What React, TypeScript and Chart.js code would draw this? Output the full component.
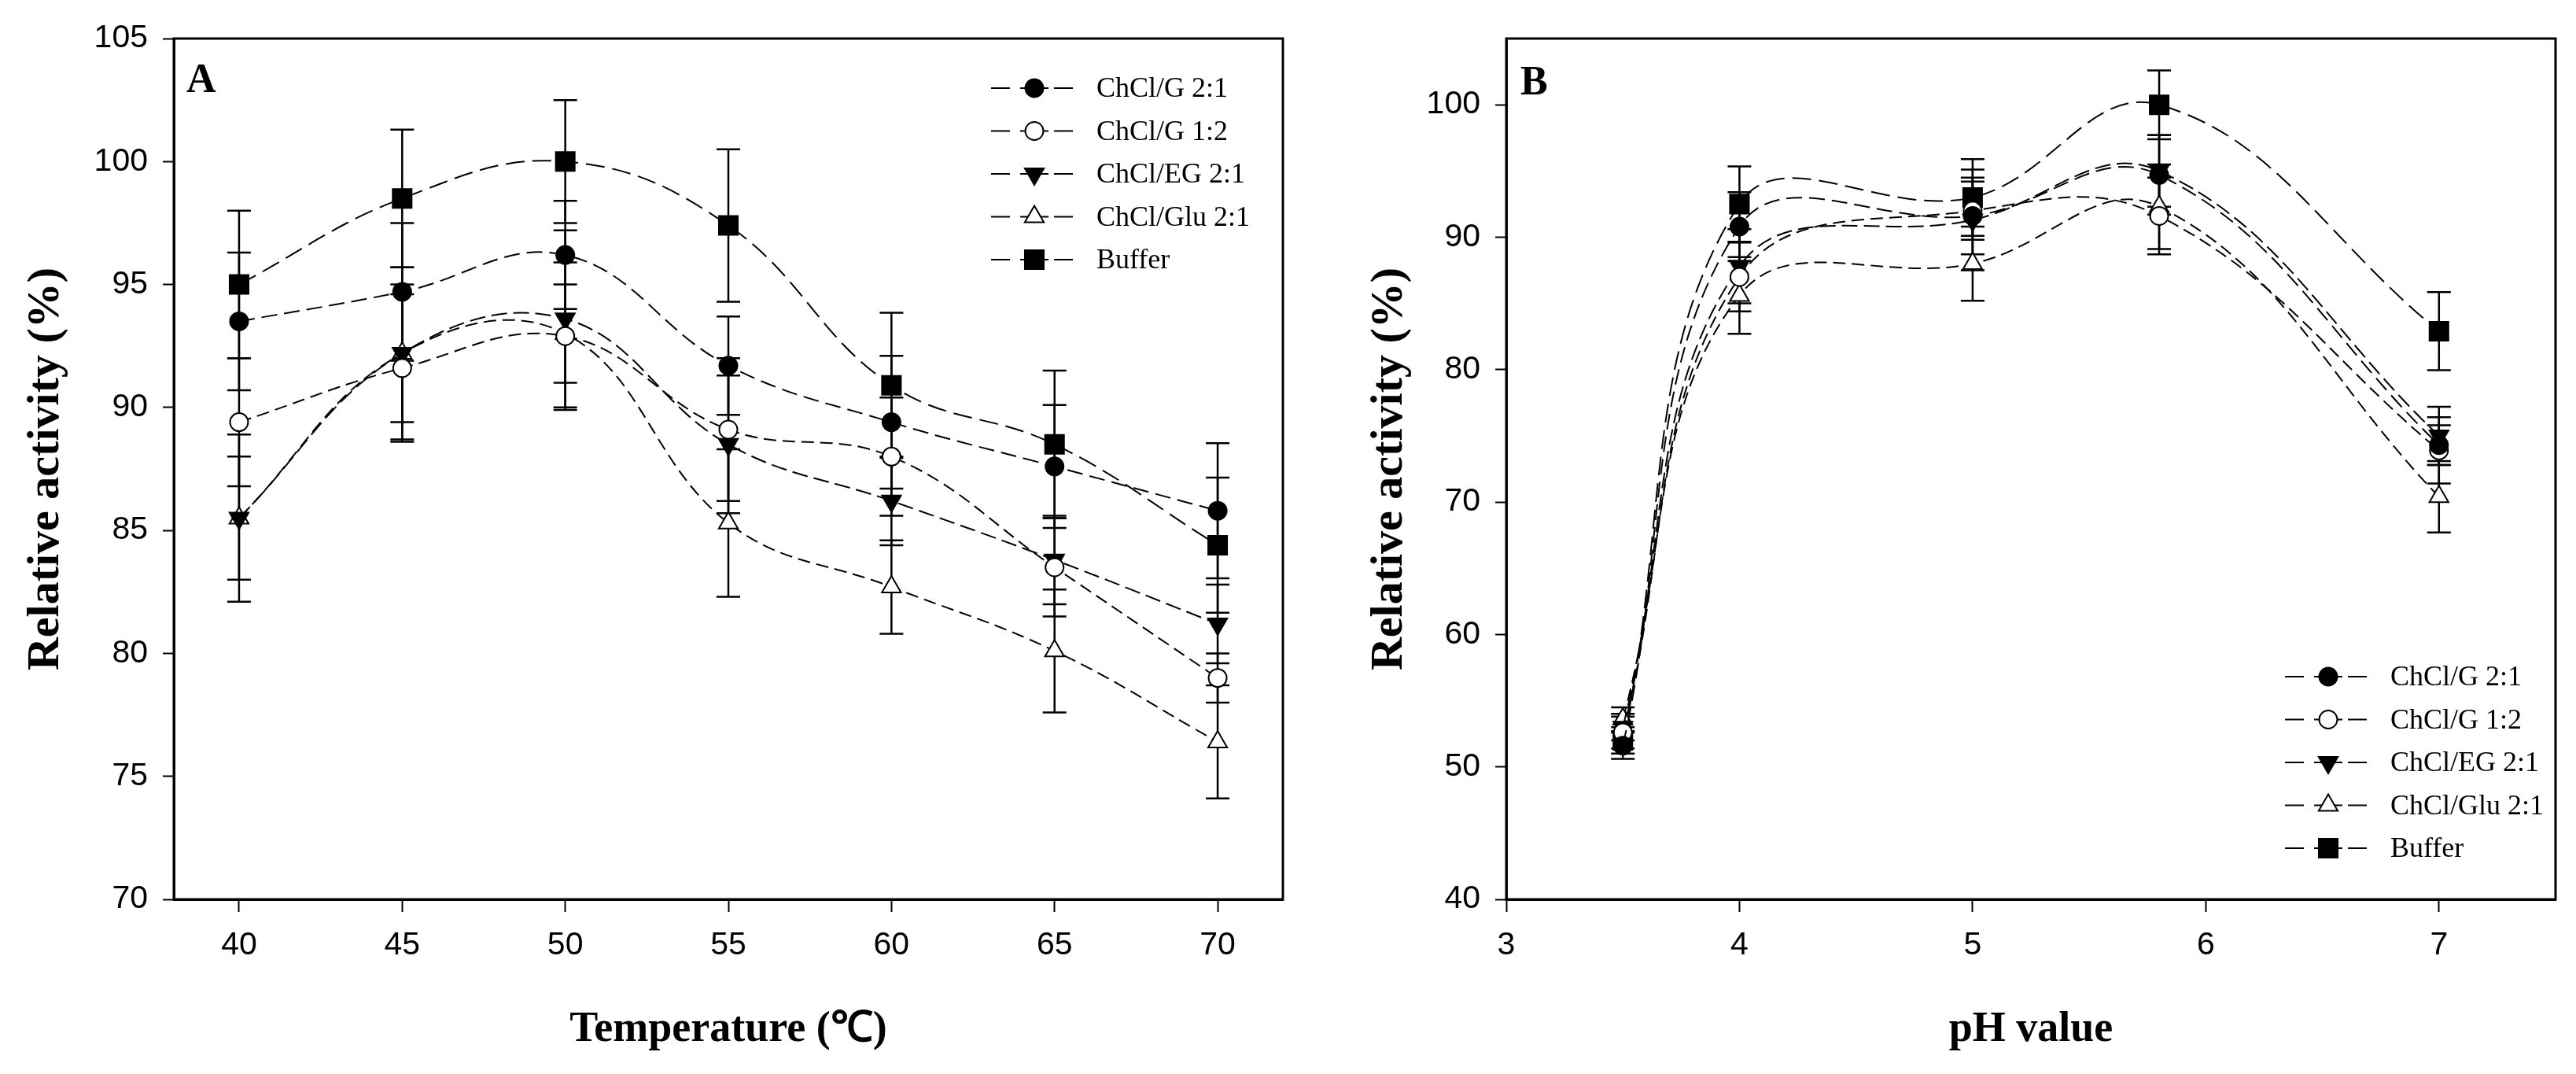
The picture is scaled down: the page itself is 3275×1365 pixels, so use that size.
import React, { useEffect, useRef } from 'react';
import Chart from 'chart.js/auto';
import { drawPoint } from 'chart.js/helpers';

// legend order, same for both panels
const seriesNames = ['ChCl/G 2:1', 'ChCl/G 1:2', 'ChCl/EG 2:1', 'ChCl/Glu 2:1', 'Buffer'];

// panel A: temperature
const tempValues = [40, 45, 50, 55, 60, 65, 70];
const tempG21 = [93.5, 94.7, 96.2, 91.7, 89.4, 87.6, 85.8];
const tempG12 = [89.4, 91.6, 92.9, 89.1, 88.0, 83.5, 79.0];
const tempEG = [85.5, 92.2, 93.6, 88.5, 86.2, 83.8, 81.2];
const tempGlu = [85.5, 92.2, 93.0, 85.3, 82.7, 80.1, 76.4];
const tempBuffer = [95.0, 98.5, 100.0, 97.4, 90.9, 88.5, 84.4];
const tempErrG21 = [2.8, 2.8, 2.2, 2.0, 2.7, 2.5, 2.75];
const tempErrG12 = [2.6, 3.0, 3.0, 2.9, 2.4, 2.0, 1.0];
const tempErrEG = [2.5, 2.8, 3.6, 2.8, 1.8, 1.8, 1.6];
const tempErrGlu = [3.4, 3.5, 2.0, 3.0, 1.9, 2.5, 2.3];
const tempErrBuffer = [3.0, 2.8, 2.5, 3.1, 2.95, 3.0, 2.75];

// panel B: pH
const phValues = [3.5, 4, 5, 5.8, 7];
const phG21 = [51.6, 90.8, 91.6, 94.7, 74.3];
const phG12 = [52.6, 87.0, 92.0, 91.6, 73.9];
const phEG = [53.0, 87.8, 91.3, 95.0, 75.0];
const phGlu = [53.6, 85.6, 88.0, 92.3, 70.4];
const phBuffer = [52.0, 92.5, 93.0, 100.0, 82.9];
const phErrG21 = [1.0, 2.6, 2.9, 3.0, 1.5];
const phErrG12 = [1.2, 2.6, 2.2, 2.9, 2.5];
const phErrEG = [1.0, 2.8, 3.8, 2.7, 2.2];
const phErrGlu = [0.9, 2.9, 2.8, 3.2, 2.7];
const phErrBuffer = [1.0, 2.85, 2.9, 2.6, 2.95];

const markers = [
  { pointStyle: 'circle', radius: 11.5, fill: '#000', rotation: 0, dash: [20, 9] },
  { pointStyle: 'circle', radius: 11.5, fill: '#fff', rotation: 0, dash: [16, 8] },
  { pointStyle: 'triangle', radius: 14, fill: '#000', rotation: 180, dash: [20, 8] },
  { pointStyle: 'triangle', radius: 14, fill: '#fff', rotation: 0, dash: [16, 8] },
  { pointStyle: 'rect', radius: 17, fill: '#000', rotation: 0, dash: [24, 10] },
];

const tickFont = "'Liberation Sans', Arial, sans-serif";
const serifFont = "'Liberation Serif', 'Times New Roman', serif";

const errorBars = {
  id: 'errorBars',
  beforeDatasetsDraw(chart: any) {
    const { ctx, scales: { x, y } } = chart;
    ctx.save();
    ctx.strokeStyle = '#000';
    ctx.lineWidth = 2.5;
    ctx.setLineDash([]);
    chart.data.datasets.forEach((ds: any) => {
      ds.data.forEach((p: any, j: number) => {
        const e = ds.errors[j];
        const px = x.getPixelForValue(p.x);
        const yt = y.getPixelForValue(p.y + e);
        const yb = y.getPixelForValue(p.y - e);
        ctx.beginPath();
        ctx.moveTo(px, yt);
        ctx.lineTo(px, yb);
        ctx.moveTo(px - 15, yt);
        ctx.lineTo(px + 15, yt);
        ctx.moveTo(px - 15, yb);
        ctx.lineTo(px + 15, yb);
        ctx.stroke();
      });
    });
    ctx.restore();
  },
};

const makeDecor = (letter: string, letterX: number, letterY: number, legX: number, legY: number) => ({
  id: 'decor',
  afterDatasetsDraw(chart: any) {
    const { ctx, chartArea } = chart;
    ctx.save();
    // frame
    ctx.strokeStyle = '#000';
    ctx.lineWidth = 3;
    ctx.setLineDash([]);
    ctx.strokeRect(chartArea.left, chartArea.top, chartArea.right - chartArea.left, chartArea.bottom - chartArea.top);
    // panel letter
    ctx.fillStyle = '#000';
    ctx.font = `bold 52px ${serifFont}`;
    ctx.textBaseline = 'alphabetic';
    ctx.textAlign = 'left';
    ctx.fillText(letter, letterX, letterY);
    // legend
    chart.data.datasets.forEach((ds: any, i: number) => {
      const m = markers[i];
      const y = legY + i * 54.5;
      const xm = legX + 55;
      ctx.lineWidth = 2;
      ctx.strokeStyle = '#000';
      ctx.beginPath();
      ctx.moveTo(legX, y);
      ctx.lineTo(legX + 24, y);
      ctx.moveTo(xm - 18, y);
      ctx.lineTo(xm + 18, y);
      ctx.moveTo(legX + 80, y);
      ctx.lineTo(legX + 104, y);
      ctx.stroke();
      ctx.fillStyle = m.fill;
      drawPoint(ctx, { pointStyle: m.pointStyle, rotation: m.rotation, radius: m.radius, borderWidth: 2 }, xm, y);
      ctx.fillStyle = '#000';
      ctx.font = `36px ${serifFont}`;
      ctx.textBaseline = 'middle';
      ctx.fillText(ds.label, legX + 134, y + 2);
    });
    ctx.restore();
  },
});

type PanelProps = {
  left: number;
  width: number;
  xValues: number[];
  series: number[][];
  errors: number[][];
  xMin: number;
  xMax: number;
  xStep: number;
  yMin: number;
  yMax: number;
  yStep: number;
  xTitle: string;
  yAxisWidth: number;
  rightPad: number;
  yTitlePad: number;
  letter: string;
  letterX: number;
  letterY: number;
  legX: number;
  legY: number;
};

const Panel = (p: PanelProps) => {
  const chartRef = useRef<HTMLCanvasElement>(null);
  const chartInstance = useRef<Chart | null>(null);

  useEffect(() => {
    if (!chartRef.current) return;
    if (chartInstance.current) chartInstance.current.destroy();
    const ctx = chartRef.current.getContext('2d');
    if (!ctx) return;
    chartInstance.current = new Chart(ctx, {
      type: 'line',
      data: {
        datasets: p.series.map((vals, i) => ({
          label: seriesNames[i],
          data: p.xValues.map((x, j) => ({ x, y: vals[j] })),
          errors: p.errors[i],
          borderColor: '#000',
          borderWidth: 2,
          borderDash: markers[i].dash,
          tension: 0.4,
          fill: false,
          pointStyle: markers[i].pointStyle,
          pointRadius: markers[i].radius,
          pointHoverRadius: markers[i].radius,
          pointRotation: markers[i].rotation,
          pointBackgroundColor: markers[i].fill,
          pointBorderColor: '#000',
          pointBorderWidth: 2,
        })) as any,
      },
      options: {
        animation: false,
        responsive: false,
        events: [],
        layout: { padding: { left: 0, top: 49, right: p.rightPad, bottom: 0 } },
        plugins: { legend: { display: false }, tooltip: { enabled: false } },
        scales: {
          x: {
            type: 'linear',
            min: p.xMin,
            max: p.xMax,
            afterFit: (s: any) => { s.height = 222; },
            ticks: {
              stepSize: p.xStep,
              includeBounds: false,
              autoSkip: false,
              maxRotation: 0,
              padding: 18,
              color: '#000',
              font: { family: tickFont, size: 41 },
            },
            grid: { drawOnChartArea: false, drawTicks: true, tickLength: 16, tickWidth: 2, tickColor: '#000' },
            border: { display: true, color: '#000', width: 3 },
            title: {
              display: true,
              text: p.xTitle,
              color: '#000',
              font: { family: serifFont, size: 54, weight: 'bold' },
              padding: { top: 0, bottom: 24 },
            },
          },
          y: {
            type: 'linear',
            min: p.yMin,
            max: p.yMax,
            afterFit: (s: any) => { s.width = p.yAxisWidth; },
            ticks: {
              stepSize: p.yStep,
              includeBounds: false,
              padding: 19,
              color: '#000',
              font: { family: tickFont, size: 41 },
            },
            grid: { drawOnChartArea: false, drawTicks: true, tickLength: 14, tickWidth: 2, tickColor: '#000' },
            border: { display: true, color: '#000', width: 3 },
            title: {
              display: true,
              text: 'Relative activity (%)',
              color: '#000',
              font: { family: serifFont, size: 58, weight: 'bold' },
              padding: { top: p.yTitlePad, bottom: 0 },
            },
          },
        },
      } as any,
      plugins: [errorBars, makeDecor(p.letter, p.letterX, p.letterY, p.legX, p.legY)],
    });

    return () => {
      if (chartInstance.current) {
        chartInstance.current.destroy();
        chartInstance.current = null;
      }
    };
  }, []);

  return (
    <canvas
      ref={chartRef}
      width={p.width}
      height={1365}
      style={{ position: 'absolute', left: p.left, top: 0, width: p.width, height: 1365 }}
    />
  );
};

const App = () => {
  return (
    <div style={{ position: 'absolute', left: 0, top: 0, width: 3275, height: 1365, background: '#fff' }}>
      <Panel
        left={0}
        width={1650}
        xValues={tempValues}
        series={[tempG21, tempG12, tempEG, tempGlu, tempBuffer]}
        errors={[tempErrG21, tempErrG12, tempErrEG, tempErrGlu, tempErrBuffer]}
        xMin={38}
        xMax={72}
        xStep={5}
        yMin={70}
        yMax={105}
        yStep={5}
        xTitle="Temperature (℃)"
        yAxisWidth={221}
        rightPad={18}
        yTitlePad={24}
        letter="A"
        letterX={237}
        letterY={117}
        legX={1260}
        legY={112}
      />
      <Panel
        left={1650}
        width={1625}
        xValues={phValues}
        series={[phG21, phG12, phEG, phGlu, phBuffer]}
        errors={[phErrG21, phErrG12, phErrEG, phErrGlu, phErrBuffer]}
        xMin={3}
        xMax={7.5}
        xStep={1}
        yMin={40}
        yMax={105}
        yStep={10}
        xTitle="pH value"
        yAxisWidth={265}
        rightPad={26}
        yTitlePad={82}
        letter="B"
        letterX={283}
        letterY={120}
        legX={1255}
        legY={860}
      />
    </div>
  );
};

export default App;
